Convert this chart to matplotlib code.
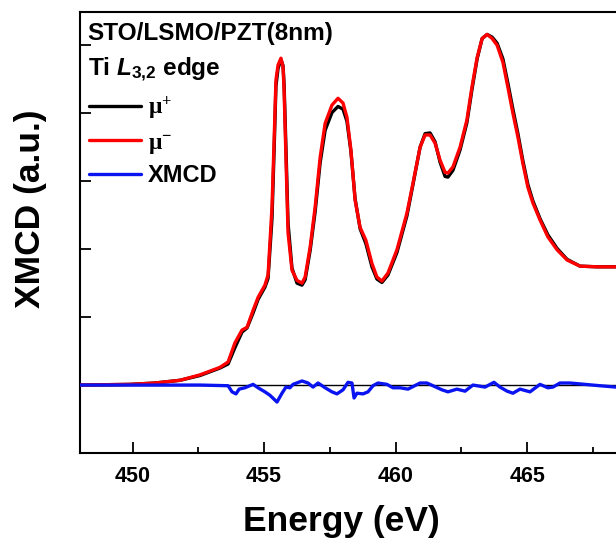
import matplotlib
matplotlib.use("Agg")
import matplotlib.pyplot as plt
from matplotlib.ticker import MultipleLocator

plt.rcParams['font.family'] = ['Liberation Sans', 'DejaVu Sans']
plt.rcParams['font.weight'] = 'bold'
plt.rcParams['mathtext.fontset'] = 'custom'
plt.rcParams['mathtext.rm'] = 'Liberation Serif'
plt.rcParams['mathtext.it'] = 'Liberation Sans:italic:bold'
plt.rcParams['mathtext.bf'] = 'Liberation Sans:bold'

# Ti L3,2 absorption, both helicities, on a common energy grid (eV)
energia = [448.00, 449.90, 450.85, 451.80, 452.56, 453.32, 453.63, 453.89, 454.16, 454.35,
           454.58, 454.77, 455.03, 455.15, 455.30, 455.38, 455.45, 455.53, 455.64, 455.72,
           455.76, 455.83, 455.91, 456.06, 456.25, 456.44, 456.56, 456.75, 456.94, 457.13,
           457.32, 457.58, 457.81, 458.00, 458.15, 458.30, 458.46, 458.65, 458.87, 459.10,
           459.29, 459.48, 459.71, 460.05, 460.43, 460.66, 460.93, 461.12, 461.31, 461.50,
           461.69, 461.88, 461.99, 462.18, 462.45, 462.71, 462.90, 463.10, 463.29, 463.48,
           463.67, 463.86, 464.08, 464.27, 464.46, 464.65, 464.84, 465.03, 465.22, 465.49,
           465.79, 466.14, 466.52, 467.01, 467.66, 468.38]

mu_menos = [0.00, 0.01, 0.03, 0.07, 0.15, 0.26, 0.34, 0.62, 0.81, 0.85,
            1.10, 1.29, 1.47, 1.62, 2.62, 3.60, 4.49, 4.71, 4.81, 4.68,
            4.34, 3.35, 2.24, 1.69, 1.54, 1.50, 1.59, 2.03, 2.62, 3.35,
            3.85, 4.12, 4.22, 4.15, 3.94, 3.46, 2.72, 2.32, 2.13, 1.79,
            1.59, 1.53, 1.65, 1.99, 2.53, 2.97, 3.50, 3.68, 3.68, 3.56,
            3.31, 3.13, 3.12, 3.21, 3.50, 3.90, 4.38, 4.82, 5.10, 5.16,
            5.10, 5.00, 4.75, 4.38, 4.00, 3.65, 3.26, 2.91, 2.68, 2.43,
            2.18, 1.99, 1.84, 1.75, 1.74, 1.74]

mu_mas = [0.00, 0.01, 0.03, 0.07, 0.14, 0.25, 0.31, 0.55, 0.78, 0.84,
          1.06, 1.26, 1.44, 1.57, 2.45, 3.45, 4.40, 4.66, 4.79, 4.70,
          4.42, 3.50, 2.38, 1.72, 1.50, 1.47, 1.55, 1.98, 2.55, 3.27,
          3.75, 4.01, 4.10, 4.06, 3.88, 3.44, 2.74, 2.30, 2.08, 1.74,
          1.56, 1.51, 1.62, 1.95, 2.49, 2.95, 3.50, 3.70, 3.71, 3.58,
          3.28, 3.07, 3.06, 3.16, 3.46, 3.86, 4.34, 4.80, 5.10, 5.16,
          5.12, 5.03, 4.80, 4.44, 4.06, 3.70, 3.30, 2.95, 2.71, 2.45,
          2.21, 2.01, 1.85, 1.75, 1.74, 1.74]

# diferencia (XMCD)
energia_xmcd = [448.0, 450.0, 452.56, 453.63, 453.78, 453.93, 454.05, 454.27, 454.58, 454.77,
                455.03, 455.22, 455.49, 455.68, 455.83, 455.98, 456.10, 456.44, 456.67, 456.86,
                457.05, 457.32, 457.58, 457.77, 458.00, 458.19, 458.34, 458.42, 458.53, 458.76,
                458.95, 459.14, 459.33, 459.67, 459.90, 460.17, 460.47, 460.93, 461.19, 461.42,
                461.76, 461.99, 462.33, 462.64, 462.94, 463.40, 463.74, 463.97, 464.24, 464.46,
                464.73, 465.11, 465.49, 465.79, 465.98, 466.25, 466.63, 467.77, 468.38]

xmcd = [0.0, 0.0, 0.0, -0.01, -0.10, -0.13, -0.06, -0.04, 0.01, -0.04,
        -0.10, -0.15, -0.25, -0.12, -0.03, -0.04, 0.01, 0.06, 0.03, -0.03,
        0.03, -0.04, -0.10, -0.13, -0.07, 0.04, 0.03, -0.19, -0.12, -0.13,
        -0.10, -0.01, 0.03, 0.01, -0.04, -0.04, -0.06, 0.03, 0.03, -0.01,
        -0.07, -0.10, -0.06, -0.09, 0.0, -0.03, 0.04, -0.03, -0.09, -0.12,
        -0.06, -0.10, 0.01, -0.04, -0.03, 0.03, 0.03, -0.01, -0.03]

fig = plt.figure(figsize=(6.16, 5.4), dpi=100)
ax = fig.add_axes([0.1299, 0.1611, 0.8701, 0.8167])

estilo = dict(lw=2.4, solid_joinstyle='round', solid_capstyle='round')
ax.axhline(0, color='black', lw=1.0, zorder=1)
ax.plot(energia, mu_mas, color='black', label=r'$\mathrm{\mu^{+}}$', zorder=2, **estilo)
ax.plot(energia, mu_menos, color='red', label=r'$\mathrm{\mu^{-}}$', zorder=3, **estilo)
ax.plot(energia_xmcd, xmcd, color='#0a14f0', label='XMCD', zorder=4, **estilo)

ax.set_xlim(448, 468.38)
ax.set_ylim(-1, 5.49)
ax.xaxis.set_major_locator(MultipleLocator(5))
ax.xaxis.set_minor_locator(MultipleLocator(2.5))
ax.yaxis.set_major_locator(MultipleLocator(1))
ax.tick_params(axis='both', which='major', direction='in', length=8, width=1.3,
               labelsize=15.5, pad=9)
ax.tick_params(axis='x', which='minor', direction='in', length=4, width=1.3)
ax.tick_params(axis='y', labelleft=False)
for lab in ax.get_xticklabels():
    lab.set_fontweight('bold')
for s in ax.spines.values():
    s.set_linewidth(1.5)
ax.spines['right'].set_visible(False)

ax.set_xlabel('Energy (eV)', fontsize=25.5, fontweight='bold')
ax.set_ylabel('XMCD (a.u.)', fontsize=25.5, fontweight='bold')
ax.xaxis.set_label_coords(0.487, -0.117)
ax.yaxis.set_label_coords(-0.062, 0.553)

ax.text(0.014, 0.978, 'STO/LSMO/PZT(8nm)', transform=ax.transAxes, fontsize=17.6,
        fontweight='bold', va='top', ha='left')
ax.text(0.014, 0.90, r'Ti $\mathit{L}_{\mathbf{3{,}2}}$ edge', transform=ax.transAxes,
        fontsize=17.6, fontweight='bold', va='top', ha='left')

ax.legend(loc='upper left', bbox_to_anchor=(0.017, 0.812), frameon=False,
          borderpad=0, borderaxespad=0, handlelength=2.2, handletextpad=0.3,
          labelspacing=0.35, prop={'size': 17, 'weight': 'bold'})

fig.savefig('out.png', dpi=100, facecolor='white')
